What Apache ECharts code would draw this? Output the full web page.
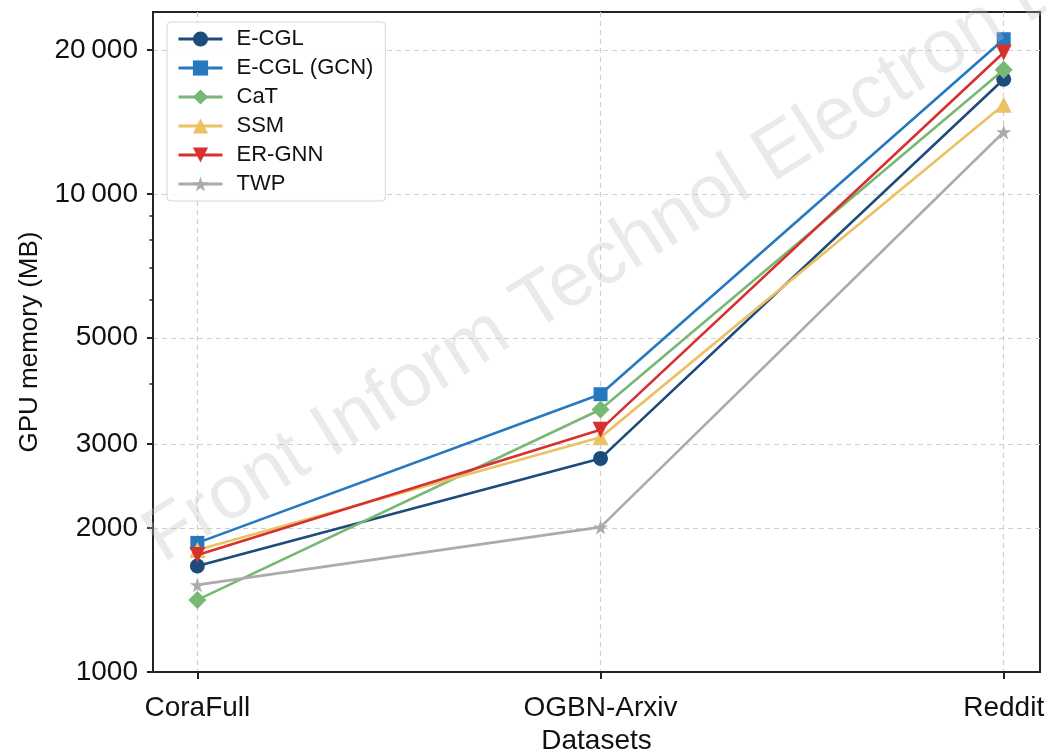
<!DOCTYPE html>
<html><head><meta charset="utf-8">
<script src="https://cdn.jsdelivr.net/npm/echarts@6/dist/echarts.min.js"></script>
<style>html,body{margin:0;padding:0;background:#fff}#c{width:1046px;height:752px}</style>
</head><body><div id="c"></div>
<script>
const categories = ['CoraFull', 'OGBN-Arxiv', 'Reddit'];
const seriesNames = ['E-CGL', 'E-CGL (GCN)', 'CaT', 'SSM', 'ER-GNN', 'TWP'];
const eCGL = [1666, 2797, 17360];
const eCGLGCN = [1862, 3810, 21050];
const caT = [1415, 3540, 18180];
const ssm = [1800, 3095, 15350];
const erGNN = [1757, 3212, 19750];
const twp = [1521, 2009, 13470];
const yTicks = [1000, 2000, 3000, 5000, 10000, 20000];
const yMinorTicks = [4000, 6000, 7000, 8000, 9000];
const xTicks = [0, 1, 2];

const seriesValues = [eCGL, eCGLGCN, caT, ssm, erGNN, twp];
const colors = ['#1d4c7c', '#2678bf', '#76b874', '#ecc163', '#d7302e', '#a9abad'];
const symbols = ['circle', 'rect', 'diamond', 'triangle', 'triangle',
  'path://M50,0 L61,35 L98,35 L68,57 L79,91 L50,70 L21,91 L32,57 L2,35 L39,35 Z'];
const symbolRot = [0, 0, 0, 0, 180, 0];
const symbolSizes = [15, 14, 18, 16, 16, 15];

const chart = echarts.init(document.getElementById('c'), null, {renderer: 'canvas'});
const font = 'Liberation Sans, Arial, Helvetica, sans-serif';
const gridColor = '#cfcfcf';
const frameColor = '#2a211d';

const series = seriesNames.map((name, i) => ({
  name: name,
  type: 'line',
  data: seriesValues[i].map((v, j) => [xTicks[j], v]),
  symbol: symbols[i],
  symbolSize: symbolSizes[i],
  symbolRotate: symbolRot[i],
  color: colors[i],
  lineStyle: {width: 2.6, color: colors[i]},
  itemStyle: {color: colors[i]},
  emphasis: {disabled: true},
  z: 3 + i
}));

chart.setOption({
  animation: false,
  backgroundColor: '#fff',
  grid: {left: 153, right: 6, top: 12, bottom: 80, show: true, borderColor: frameColor, borderWidth: 2,
    backgroundColor: 'transparent', containLabel: false, outerBoundsMode: 'none'},
  legend: {
    left: 167, top: 22,
    orient: 'vertical',
    data: seriesNames,
    itemWidth: 44, itemHeight: 19, itemGap: 7,
    padding: [6, 12, 6, 10],
    backgroundColor: 'rgba(255,255,255,0.85)',
    borderColor: '#d6d6d6', borderWidth: 1, borderRadius: 4,
    lineStyle: {width: 3},
    textStyle: {fontFamily: font, fontSize: 22, color: '#111', padding: [0, 0, 0, 9], lineHeight: 22}
  },
  xAxis: {
    type: 'value', min: -0.11, max: 2.09,
    name: 'Datasets', nameLocation: 'middle', nameGap: 54,
    nameTextStyle: {fontFamily: font, fontSize: 28, color: '#111'},
    axisLine: {show: true, onZero: false, lineStyle: {color: frameColor, width: 2}},
    axisTick: {show: true, customValues: xTicks, length: 7, lineStyle: {color: frameColor, width: 2}},
    axisLabel: {customValues: xTicks, formatter: v => categories[Math.round(v)] || '', fontFamily: font, fontSize: 28, color: '#111', margin: 22},
    splitLine: {show: true, lineStyle: {color: gridColor, type: [5, 4], width: 1.2}}
  },
  yAxis: [{
    type: 'log', logBase: 10, min: 1000, max: 24000,
    name: 'GPU memory (MB)', nameLocation: 'middle', nameGap: 110,
    nameTextStyle: {fontFamily: font, fontSize: 26, color: '#111'},
    axisLine: {show: true, onZero: false, lineStyle: {color: frameColor, width: 2}},
    axisTick: {show: true, customValues: yTicks, length: 6, lineStyle: {color: frameColor, width: 2}},
    axisLabel: {customValues: yTicks, fontFamily: font, fontSize: 28, color: '#111', margin: 15,
      formatter: v => { const s = String(Math.round(v)); return s.length > 4 ? s.slice(0, s.length - 3) + '\u2009' + s.slice(-3) : s; }},
    splitLine: {show: true, lineStyle: {color: gridColor, type: [5, 4], width: 1.2}},
    minorTick: {show: false}
  }, {
    type: 'log', logBase: 10, min: 1000, max: 24000, position: 'left', offset: 0,
    axisLine: {show: false, onZero: false},
    axisTick: {show: true, customValues: yMinorTicks, length: 3.5, lineStyle: {color: frameColor, width: 1.5}},
    axisLabel: {show: false},
    splitLine: {show: false}
  }],
  graphic: [{
    type: 'text', x: 172, y: 578, rotation: 32 * Math.PI / 180, z: 100, silent: true,
    style: {text: 'Front Inform Technol Electron Eng', fontFamily: font, fontSize: 76,
      fill: 'rgba(190,190,190,0.33)', textAlign: 'left', textVerticalAlign: 'bottom'}
  }],
  series: series
});
</script></body></html>
